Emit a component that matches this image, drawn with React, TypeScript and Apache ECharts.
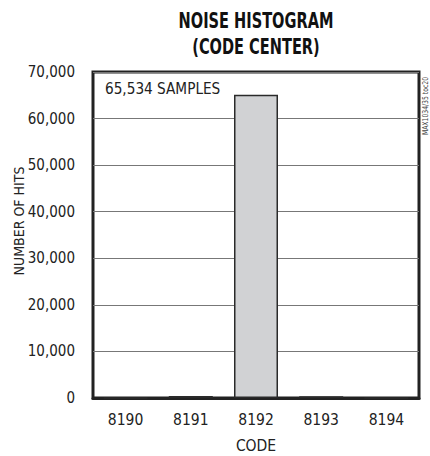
import React, { useEffect, useRef } from "react";
import * as echarts from "echarts";

const categories = ["8190", "8191", "8192", "8193", "8194"];
const hits = [0, 420, 65100, 400, 0];
const yTicks = [0, 10000, 20000, 30000, 40000, 50000, 60000, 70000];
const titleLines = ["NOISE HISTOGRAM", "(CODE CENTER)"];
const sampleNote = "65,534 SAMPLES";
const sideNote = "MAX1034/35 toc20";

const FONT = "'DejaVu Sans Condensed', 'Liberation Sans', sans-serif";

export default function App() {
  const ref = useRef<HTMLDivElement>(null);
  useEffect(() => {
    if (!ref.current) return;
    const chart = echarts.init(ref.current, undefined, { renderer: "svg" });
    chart.setOption({
      animation: false,
      textStyle: { fontFamily: FONT },
      grid: {
        left: 93,
        right: 11,
        top: 72,
        bottom: 58,
        outerBoundsMode: "none",
        containLabel: false,
        show: true,
        borderColor: "#222",
        borderWidth: 3,
        backgroundColor: "transparent",
      },
      xAxis: {
        type: "category",
        data: categories,
        name: "CODE",
        nameLocation: "middle",
        nameGap: 40,
        nameMoveOverlap: false,
        nameTextStyle: { fontFamily: FONT, fontSize: 15.5, color: "#222" },
        axisLine: { show: true, lineStyle: { color: "#222", width: 3 } },
        axisTick: { show: false },
        axisLabel: { fontFamily: FONT, fontSize: 15.5, color: "#222", margin: 14 },
      },
      yAxis: {
        type: "value",
        min: yTicks[0],
        max: yTicks[yTicks.length - 1],
        interval: 10000,
        name: "NUMBER OF HITS",
        nameLocation: "middle",
        nameGap: 67,
        nameMoveOverlap: false,
        nameTextStyle: { fontFamily: FONT, fontSize: 14, color: "#222", padding: [0, 0, 0, 28] },
        axisLine: { show: false },
        axisTick: { show: false },
        splitLine: { show: true, lineStyle: { color: "#777", width: 1 } },
        axisLabel: {
          fontFamily: FONT,
          fontSize: 15,
          color: "#222",
          margin: 18,
          formatter: (v: number) => v.toLocaleString("en-US"),
        },
      },
      series: [
        {
          type: "bar",
          data: hits,
          barWidth: 44,
          itemStyle: { color: "#d1d2d4", borderColor: "#2a2a2a", borderWidth: 1.5 },
        },
      ],
      graphic: [
        {
          type: "text",
          x: 256,
          y: 21,
          scaleX: 0.79,
          style: {
            text: titleLines[0],
            fontFamily: FONT,
            fontWeight: "bold",
            fontSize: 20.5,
            fill: "#111",
            textAlign: "center",
            textVerticalAlign: "middle",
          },
        },
        {
          type: "text",
          x: 256,
          y: 46.5,
          scaleX: 0.79,
          style: {
            text: titleLines[1],
            fontFamily: FONT,
            fontWeight: "bold",
            fontSize: 20.5,
            fill: "#111",
            textAlign: "center",
            textVerticalAlign: "middle",
          },
        },
        {
          type: "text",
          x: 105,
          y: 88.5,
          scaleX: 0.98,
          style: {
            text: sampleNote,
            fontFamily: FONT,
            fontSize: 15.5,
            fill: "#222",
            textVerticalAlign: "middle",
          },
        },
        {
          type: "text",
          x: 425,
          y: 106,
          rotation: Math.PI / 2,
          scaleX: 0.85,
          style: {
            text: sideNote,
            fontFamily: FONT,
            fontSize: 8,
            fill: "#444",
            textAlign: "center",
            textVerticalAlign: "middle",
          },
        },
      ],
    });
    return () => chart.dispose();
  }, []);
  return (
    <div
      ref={ref}
      style={{ position: "fixed", left: 0, top: 0, width: 430, height: 456, background: "#fff" }}
    />
  );
}
